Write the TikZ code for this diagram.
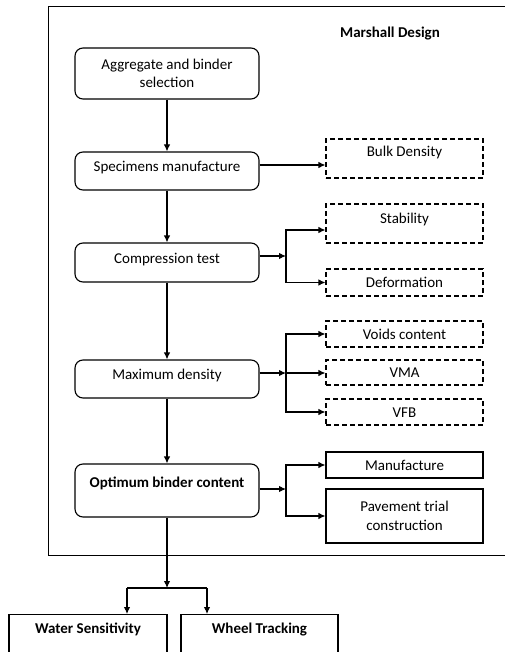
\documentclass[tikz,border=0pt]{standalone}
\usepackage{fontspec}
\setmainfont{Carlito}
\usetikzlibrary{arrows.meta}
\begin{document}
\begin{tikzpicture}[x=1pt,y=1pt,
  every node/.style={font=\fontsize{15}{18.5}\selectfont, inner sep=0pt},
  ln/.style={line width=1.1pt},
  arr/.style={ln,-{Latex[length=7pt,width=6.5pt]}},
  main/.style={draw, ln, rounded corners=8pt, minimum width=184pt, align=center},
  side/.style={draw, ln, dash pattern=on 5pt off 3pt, minimum width=157pt, align=center},
  sidesolid/.style={draw, ln, minimum width=157pt, align=center},
  tc/.style={text height=10pt, text depth=#1},
  tc/.default=0pt,
]
\useasboundingbox (0,0) rectangle (505,-652);
% outer frame
\draw[line width=1pt] (506,-7) -- (48,-7) -- (48,-555) -- (506,-555);
\node[font=\fontsize{15}{18}\selectfont\bfseries] (title) at (390,-34) {Marshall Design};

% main column
\node[main, minimum height=51pt] (b1) at (167,-73.5) {Aggregate and binder\\selection};
\node[main, minimum height=38pt, tc=8pt] (b2) at (167,-171) {Specimens manufacture};
\node[main, minimum height=39pt, tc=9pt] (b3) at (167,-262.5) {Compression test};
\node[main, minimum height=38pt, tc=10pt] (b4) at (167,-379) {Maximum density};
\node[main, minimum height=53pt, tc=17pt, font=\fontsize{15}{18.5}\selectfont\bfseries] (b5) at (167,-490.5) {Optimum binder content};

% side boxes
\node[side, minimum height=39pt, tc=13pt] (bulk) at (404.5,-158.5) {Bulk Density};
\node[side, minimum height=39pt, tc=11pt] (stab) at (404.5,-223.5) {Stability};
\node[side, minimum height=27pt, tc] (defo) at (404.5,-282.5) {Deformation};
\node[side, minimum height=26pt, tc] (voids) at (404.5,-334) {Voids content};
\node[side, minimum height=25pt, tc] (vma) at (404.5,-372.5) {VMA};
\node[side, minimum height=26pt, tc] (vfb) at (404.5,-412) {VFB};
\node[sidesolid, minimum height=26pt, tc] (manu) at (404.5,-465) {Manufacture};
\node[sidesolid, minimum height=54pt] (pave) at (404.5,-516) {Pavement trial\\construction};

% bottom boxes
\node[draw, ln, anchor=north, minimum width=158pt, minimum height=56pt, tc=28pt, font=\fontsize{15}{18}\selectfont\bfseries] (ws) at (88,-614) {Water Sensitivity};
\node[draw, ln, anchor=north, minimum width=157pt, minimum height=56pt, tc=28pt, font=\fontsize{15}{18}\selectfont\bfseries] (wt) at (259.5,-614) {Wheel Tracking};

% junctions
\coordinate (j1) at (286,-256);
\coordinate (j2) at (286,-373);
\coordinate (j3) at (286,-489);
\coordinate (j4) at (167,-588);
\coordinate (wl) at (127,-588);
\coordinate (wr) at (207,-588);

% main flow
\draw[arr] (b1) -- (b2);
\draw[arr] (b2) -- (b3);
\draw[arr] (b3) -- (b4);
\draw[arr] (b4) -- (b5);

% bulk
\draw[arr] ([yshift=6pt]b2.east) -- ([yshift=6pt]b2.east -| bulk.west);
% compression
\draw[arr] (b3.east |- j1) -- (j1);
\draw[arr] (j1) |- ([yshift=-6.5pt]stab.west);
\draw[arr] (j1) |- (defo.west);
% maximum density
\draw[arr] (b4.east |- j2) -- (j2);
\draw[arr] (j2) |- (voids.west);
\draw[arr] (j2) -- (j2 -| vma.west);
\draw[arr] (j2) |- (vfb.west);
% optimum
\draw[arr] (b5.east |- j3) -- (j3);
\draw[arr] (j3) |- (manu.west);
\draw[arr] (j3) |- (pave.west);
% bottom
\draw[arr] (b5) -- (j4);
\draw[ln] (wl) -- (wr);
\draw[arr] (wl) -- (wl |- ws.north);
\draw[arr] (wr) -- (wr |- wt.north);
\end{tikzpicture}
\end{document}
